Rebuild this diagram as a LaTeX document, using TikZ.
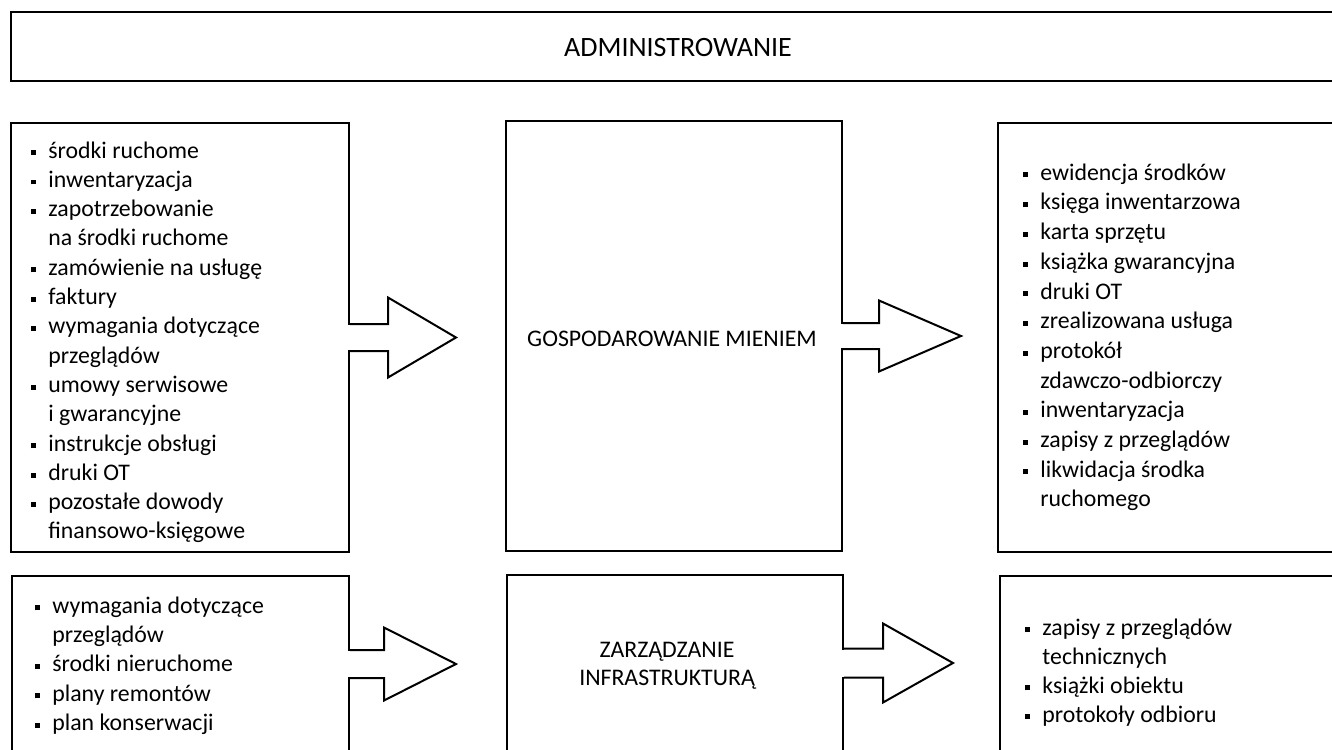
\documentclass[tikz,border=0pt]{standalone}
\usepackage{fontspec}
\setmainfont{Carlito}
\usetikzlibrary{calc,fit}

% small square bullet hanging to the left of an entry
\newcommand\bul{\llap{\rule[1.4pt]{2.5pt}{2.5pt}\hspace{6.25pt}}}

% block arrow leaving a box edge: #1 base point on the edge (shaft centre),
% #2 neck offset, #3 tip offset, #4 shaft half-height, #5 head half-height
\newcommand\blockarrow[5]{%
  \fill[white] ($(#1)+(-2,-#4+1)$) rectangle ($(#1)+(#2,#4-1)$);
  \draw[arrowline] ($(#1)+(0,-#4)$) -- ($(#1)+(#2,-#4)$) -- ($(#1)+(#2,-#5)$)
    -- ($(#1)+(#3,0)$) -- ($(#1)+(#2,#5)$) -- ($(#1)+(#2,#4)$) -- ($(#1)+(0,#4)$);
}

\begin{document}
\begin{tikzpicture}[x=0.5pt,y=-0.5pt,line join=miter,
  frame/.style={draw,line width=1pt,inner sep=0pt},
  arrowline/.style={line width=1pt},
  entry/.style={anchor=west,inner sep=0pt,text height=0.72em,text depth=0.2em,
    font=\fontsize{11.9}{14}\selectfont},
  caption/.style={inner sep=0pt,align=center,font=\fontsize{11.9}{14}\selectfont},
  heading/.style={inner sep=0pt,font=\fontsize{14}{17}\selectfont}]
\useasboundingbox (0,0) rectangle (1332,749);
\clip (0,0) rectangle (1332,749);

% frames
\node[frame,fit={(11,12) (1350,81)}] (admin) {};
\node[heading] (adminlabel) at (678,48) {ADMINISTROWANIE};

\node[frame,fit={(11,123) (349,552)}] (inA) {};
\node[frame,fit={(506,121) (842,551)}] (procA) {};
\node[frame,fit={(998,123) (1350,552)}] (outA) {};

\node[frame,fit={(12,576) (349,770)}] (inB) {};
\node[frame,fit={(507,575) (843,770)}] (procB) {};
\node[frame,fit={(1000,576) (1350,770)}] (outB) {};

% block arrows between the frames
\coordinate (flowA) at (inA.east);
\blockarrow{flowA}{38}{106}{13.5}{40}
\coordinate (flowB) at (procA.east);
\blockarrow{flowB}{36}{118}{13}{35.5}
\coordinate (flowC) at (inB.east |- 0,664);
\blockarrow{flowC}{34}{106}{14}{36.5}
\coordinate (flowD) at (procB.east |- 0,663);
\blockarrow{flowD}{39}{109}{14.5}{39.5}

% process captions
\node[caption] (procAlabel) at (672,339) {GOSPODAROWANIE MIENIEM};
\node[caption] (procBlabel) at (667,666) {ZARZĄDZANIE\\INFRASTRUKTURĄ};

% inputs, upper row
\foreach \flag/\txt [count=\i] in {1/środki ruchome,1/inwentaryzacja,
    1/zapotrzebowanie,0/na środki ruchome,1/zamówienie na usługę,1/faktury,
    1/wymagania dotyczące,0/przeglądów,1/umowy serwisowe,0/i gwarancyjne,
    1/instrukcje obsługi,1/druki OT,1/pozostałe dowody,0/finansowo-księgowe}
  \node[entry] (inA-\i) at (48,{152.8+(\i-1)*29.3}) {\ifnum\flag=1 \bul\fi\txt};

% outputs, upper row
\foreach \flag/\txt [count=\i] in {1/ewidencja środków,1/księga inwentarzowa,
    1/karta sprzętu,1/książka gwarancyjna,1/druki OT,1/zrealizowana usługa,
    1/protokół,0/zdawczo-odbiorczy,1/inwentaryzacja,1/zapisy z przeglądów,
    1/likwidacja środka,0/ruchomego}
  \node[entry] (outA-\i) at (1040,{175+(\i-1)*29.7}) {\ifnum\flag=1 \bul\fi\txt};

% inputs, lower row
\foreach \flag/\txt [count=\i] in {1/wymagania dotyczące,0/przeglądów,
    1/środki nieruchome,1/plany remontów,1/plan konserwacji}
  \node[entry] (inB-\i) at (52,{608+(\i-1)*29.3}) {\ifnum\flag=1 \bul\fi\txt};

% outputs, lower row
\foreach \flag/\txt [count=\i] in {1/zapisy z przeglądów,0/technicznych,
    1/książki obiektu,1/protokoły odbioru}
  \node[entry] (outB-\i) at (1042,{630+(\i-1)*29}) {\ifnum\flag=1 \bul\fi\txt};
\end{tikzpicture}
\end{document}
